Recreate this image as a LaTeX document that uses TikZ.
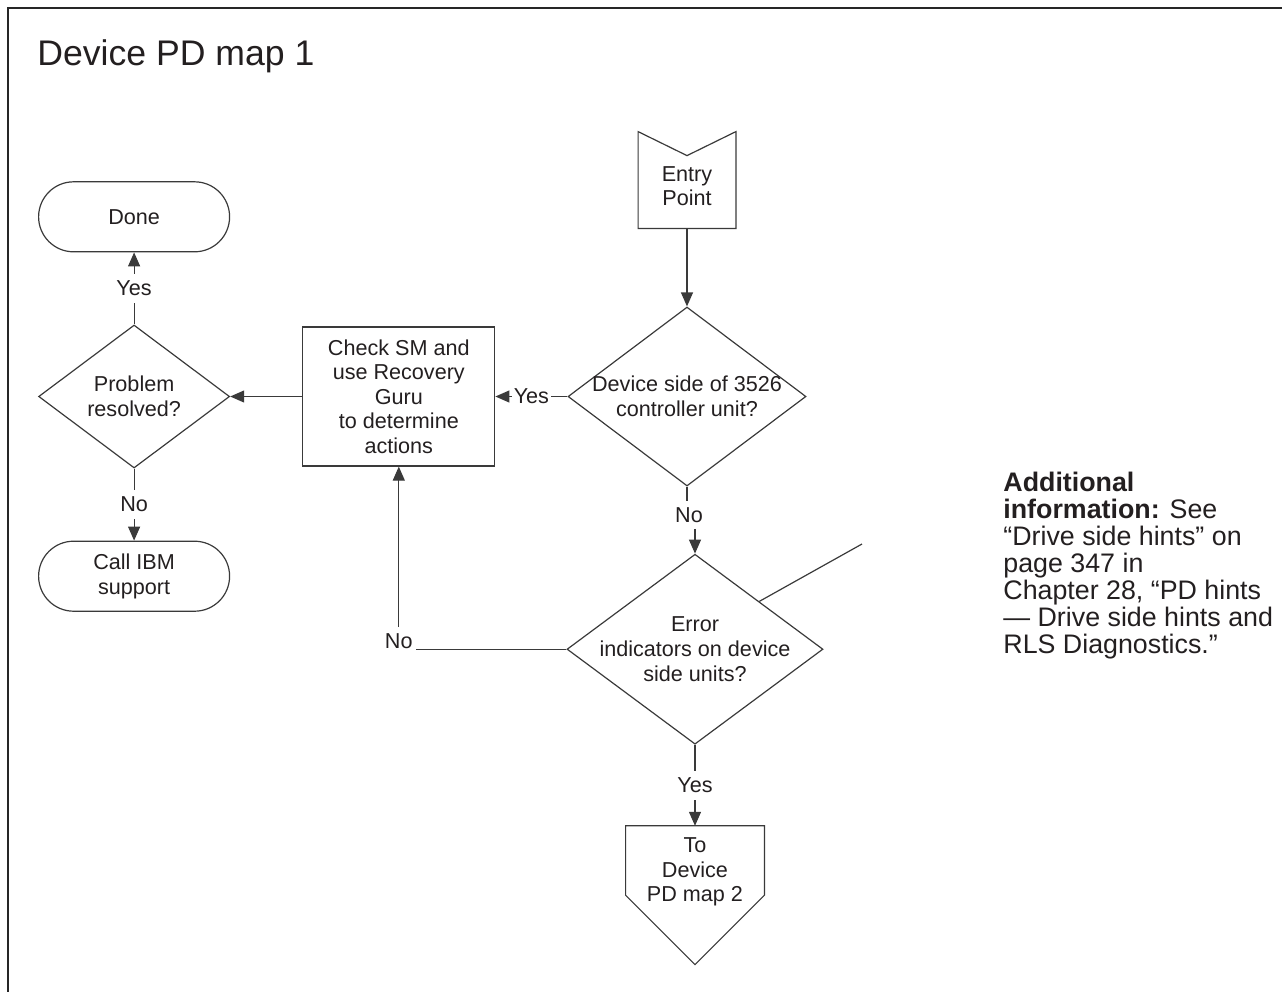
\documentclass[tikz,border=0pt]{standalone}
\usepackage{fontspec}
\setmainfont{Liberation Sans}
\usetikzlibrary{positioning,arrows.meta,calc,shapes.geometric,shapes.misc}
\definecolor{linegray}{HTML}{3A3A3A}
\definecolor{inktext}{HTML}{231F20}

\begin{document}
\begin{tikzpicture}[x=0.5pt,y=-0.5pt,node distance=36pt,
      every node/.style={text=inktext,font=\fontsize{10.8}{12.3}\selectfont},
      term/.style={draw=linegray,line width=0.6pt,rounded rectangle,minimum width=95.5pt,minimum height=35pt,align=center,inner sep=0pt},
      decision/.style={draw=linegray,line width=0.6pt,diamond,inner sep=0pt},
      procbox/.style={draw=linegray,line width=0.6pt,rectangle,minimum width=96pt,minimum height=69.5pt,align=center,inner sep=0pt},
      outline/.style={rectangle,inner sep=0pt},
      flowtext/.style={align=center,inner sep=0pt},
      lbl/.style={fill=white,inner xsep=1pt,inner ysep=3.5pt},
      flow/.style={draw=linegray,line width=0.6pt,-{Triangle[length=7pt,width=6pt]}},
      plain/.style={draw=linegray,line width=0.6pt}]
    \useasboundingbox (0,0) rectangle (1282,992);
    % frame and title
    \draw[line width=1.2pt,black!85] (1282,8) -- (8,8) -- (8,992);
    \node[anchor=base west,inner sep=0pt,font=\fontsize{17.8}{20}\selectfont] (title) at (37,65) {Device PD map 1};

    % main column
    \node[decision,minimum width=119pt,minimum height=89.5pt] (d2) at (687,396.5) {};
    \node[flowtext] (d2t) at (d2.center) {Device side of 3526\\controller unit?};
    \node[outline,minimum width=48.5pt,minimum height=48pt,above=39pt of d2] (entry) {};
    \draw[plain] (entry.north west) -- ($(entry.north)+(0,24)$) -- (entry.north east) -- (entry.south east) -- (entry.south west) -- cycle;
    \node[flowtext] (entryt) at ([yshift=-3pt]entry.center) {Entry\\Point};
    \node[decision,minimum width=128pt,minimum height=95pt,below=33.5pt of d2,xshift=4pt] (d3) {};
    \node[flowtext] (d3t) at (d3.center) {Error\\indicators on device\\side units?};
    \node[outline,minimum width=69pt,minimum height=69pt,below=40.5pt of d3] (todev) {};
    \draw[plain] (todev.north west) -- (todev.north east) -- (todev.east) -- (todev.south) -- (todev.west) -- cycle;
    \node[flowtext] (todevt) at ([yshift=11.5pt]todev.center) {To\\Device\\PD map 2};

    % left side
    \node[procbox,left=of d2] (box) {Check SM and\\use Recovery\\Guru\\to determine\\actions};
    \node[decision,minimum width=95.5pt,minimum height=71.5pt,left=of box] (d1) {};
    \node[flowtext] (d1t) at (d1.center) {Problem\\resolved?};
    \node[term,above=of d1] (done) {Done};
    \node[term,below=of d1] (call) {Call IBM\\support};

    % connectors
    \draw[flow] (entry.south) -- (d2.north);
    \draw[flow] (d2.west) -- node[lbl]{Yes} (box.east);
    \draw[flow] (box.west) -- (d1.east);
    \draw[flow] (d1.north) -- node[lbl]{Yes} (done.south);
    \draw[flow] (d1.south) -- node[lbl]{No} (call.north);
    \node[inner xsep=1.5pt,inner ysep=3pt] (nob) at (689,515) {No};
    \draw[plain] (d2.south) -- (d2.south |- nob.north);
    \draw[flow] (d3.north |- nob.south) -- (d3.north);
    \draw[flow] (d3.south) -- node[lbl]{Yes} (todev.north);
    \node[inner xsep=1.5pt,inner ysep=3pt] (noc) at (box.south |- 0,641) {No};
    \draw[plain] (d3.west) -- (d3.west -| noc.east);
    \draw[flow] (noc.north) -- (box.south);
    \coordinate (note) at (862,544);
    \draw[plain] ($(d3.north)!0.5!(d3.east)$) -- (note);

    % side note
    \node[anchor=north west,align=left,inner sep=0pt,font=\fontsize{13.4}{13.5}\selectfont] (info) at (1003,472)
      {\textbf{Additional}\\\textbf{information:} See\\“Drive side hints” on\\page 347 in\\Chapter 28, “PD hints\\— Drive side hints and\\RLS Diagnostics.”};
  \end{tikzpicture}
\end{document}
